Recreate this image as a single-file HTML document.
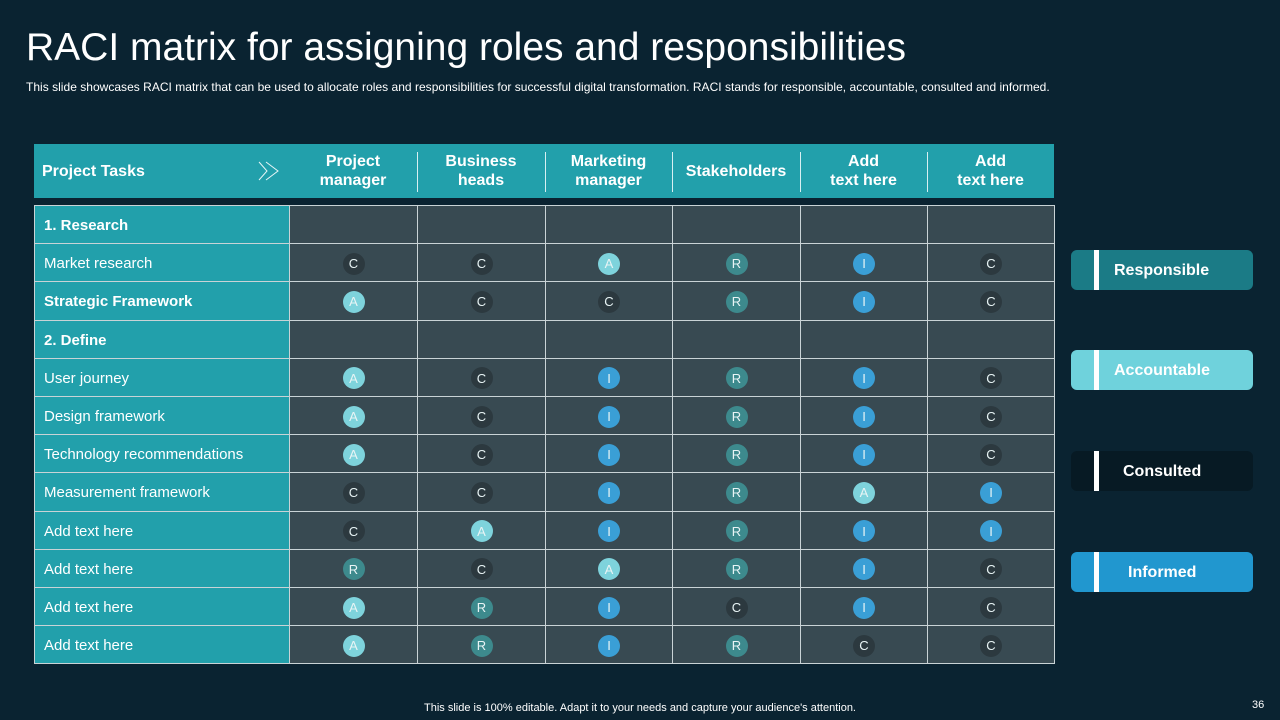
<!DOCTYPE html>
<html><head><meta charset="utf-8"><style>
body{margin:0;width:1280px;height:720px;background:#0a2331;font-family:"Liberation Sans",sans-serif;position:relative;overflow:hidden;color:#fff}
.abs{position:absolute}
#title{left:26px;top:26px;font-size:39px;color:#fff}
#sub{left:26px;top:80px;font-size:12px;color:#fff;white-space:nowrap;letter-spacing:0.02px}
#hdr{left:34px;top:144px;width:1020px;height:54px;background:#22a0ab}
.hc{position:absolute;top:0;height:54px;display:flex;align-items:center;justify-content:center;text-align:center;font-weight:bold;font-size:16px;line-height:19px}
.sep{position:absolute;top:8px;width:1px;height:40px;background:#d8f0f2}
#tbl{left:34px;top:205px}
.cell{position:absolute;box-sizing:border-box;border:1px solid #c9d3d6;display:flex;align-items:center;padding-top:2px}
.dot{width:22px;height:22px;border-radius:50%;margin:auto;display:flex;align-items:center;justify-content:center;font-size:13px;color:#e8f4f5}
.leg{position:absolute;left:1071px;width:182px;height:40px;border-radius:6px;font-weight:bold;font-size:16px}
.leg .bar{position:absolute;left:23px;top:0;width:5px;height:40px;background:#fff}
.leg span{position:absolute;top:0;height:40px;line-height:41px;white-space:nowrap}
#foot{left:0;width:1280px;top:702px;text-align:center;font-size:11px}
#pg{left:1252px;top:699px;font-size:11px}
</style></head><body>
<div id="title" class="abs">RACI matrix for assigning roles and responsibilities</div>
<div id="sub" class="abs">This slide showcases RACI matrix that can be used to allocate roles and responsibilities for successful digital transformation. RACI stands for responsible, accountable, consulted and informed.</div>
<div id="hdr" class="abs"></div>
<div id="tbl" class="abs"></div>
<div class="leg" style="top:250px;background:#1b7b86"><div class="bar"></div><span style="left:43px">Responsible</span></div>
<div class="leg" style="top:350px;background:#6fd2dc"><div class="bar"></div><span style="left:43px">Accountable</span></div>
<div class="leg" style="top:451px;background:#071a24"><div class="bar"></div><span style="left:52px">Consulted</span></div>
<div class="leg" style="top:552px;background:#2197cf"><div class="bar"></div><span style="left:57px">Informed</span></div>
<div id="foot" class="abs">This slide is 100% editable. Adapt it to your needs and capture your audience's attention.</div>
<div id="pg" class="abs">36</div>
<script>
const roles=["Project<br>manager","Business<br>heads","Marketing<br>manager","Stakeholders","Add<br>text here","Add<br>text here"];
const tasks=["1. Research","Market research","Strategic Framework","2. Define","User journey","Design framework","Technology recommendations","Measurement framework","Add text here","Add text here","Add text here","Add text here"];
const boldRows=[0,2,3];
const values=["","CCARIC","ACCRIC","","ACIRIC","ACIRIC","ACIRIC","CCIRAI","CAIRII","RCARIC","ARICIC","ARIRCC"];
const colors={C:"#2c393f",A:"#7ed3dc",I:"#3a9fd6",R:"#3d8a8d"};
const colX=[289,417,545,672,800,927,1054];
const hdr=document.getElementById('hdr');
let h=document.createElement('div');h.className='hc';h.style.left='8px';h.style.justifyContent='flex-start';h.innerHTML='Project Tasks';


hdr.appendChild(h);
hdr.insertAdjacentHTML('beforeend','<svg style="position:absolute;left:224px;top:17px" width="22" height="20"><path d="M1 1 L9 10 L1 19 M8 1 L20 10 L8 19" fill="none" stroke="#e8f6f7" stroke-width="1"/></svg>');
roles.forEach((r,i)=>{const d=document.createElement('div');d.className='hc';d.style.left=(colX[i]-34)+'px';d.style.width=(colX[i+1]-colX[i])+'px';d.innerHTML=r;


hdr.appendChild(d);
if(i>0){const s=document.createElement('div');s.className='sep';s.style.left=(colX[i]-34)+'px';


hdr.appendChild(s);}});
const tbl=document.getElementById('tbl');const rh=38.2;
tasks.forEach((t,ri)=>{const y=ri*rh;
const c=document.createElement('div');c.className='cell';c.style.cssText=`left:0;top:${y}px;width:256px;height:${rh+1}px;background:#22a0ab;padding-left:9px;font-size:15px;${boldRows.includes(ri)?'font-weight:bold;':''}`;c.textContent=t;


tbl.appendChild(c);
for(let j=0;j<6;j++){const d=document.createElement('div');d.className='cell';d.style.cssText=`left:${colX[j]-34}px;top:${y}px;width:${colX[j+1]-colX[j]+1}px;height:${rh+1}px;background:#384a52`;


const v=values[ri][j];if(v){const dot=document.createElement('div');dot.className='dot';dot.style.background=colors[v];dot.textContent=v;


d.appendChild(dot);}
tbl.appendChild(d);}});
</script>
</body></html>
